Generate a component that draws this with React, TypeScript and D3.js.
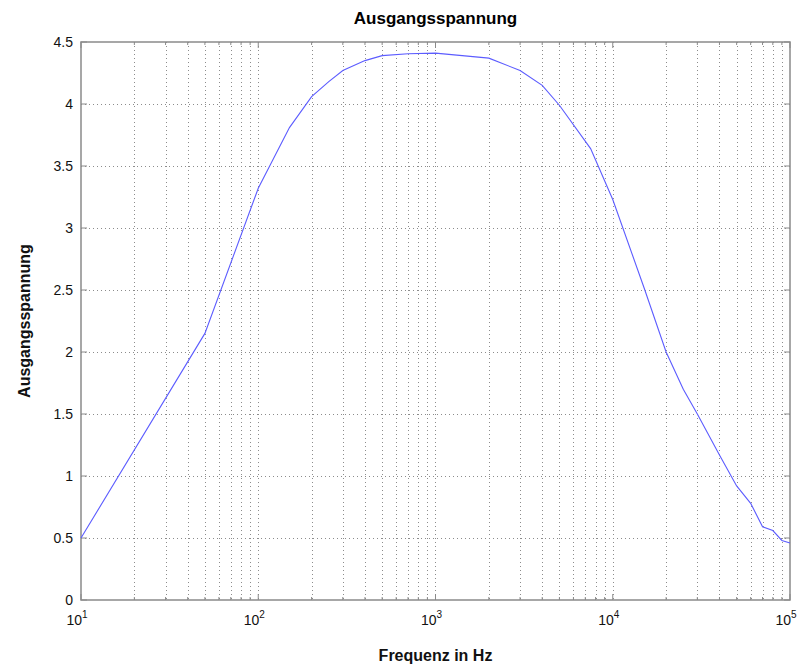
import React from "react";
import * as d3 from "d3";

// frequency in Hz and output voltage
const frequencies = [
  10, 50, 100, 150, 200, 250, 300, 400, 500, 700, 1000, 2000, 3000, 4000,
  5000, 7500, 10000, 15000, 20000, 25000, 30000, 40000, 50000, 60000, 70000,
  80000, 90000, 100000,
];
const voltages = [
  0.5, 2.15, 3.32, 3.81, 4.06, 4.18, 4.27, 4.35, 4.39, 4.405, 4.41, 4.37,
  4.27, 4.15, 3.99, 3.64, 3.23, 2.52, 2.0, 1.7, 1.5, 1.17, 0.92, 0.78, 0.59,
  0.56, 0.48, 0.46,
];
const yTicks = [0, 0.5, 1, 1.5, 2, 2.5, 3, 3.5, 4, 4.5];
const decades = [10, 100, 1000, 10000, 100000];

const title = "Ausgangsspannung";
const xLabel = "Frequenz in Hz";
const yLabel = "Ausgangsspannung";

const App = () => {
  const width = 804;
  const height = 668;
  const margins = { top: 42, right: 14, bottom: 68, left: 81 };
  const font = "'Liberation Sans', Arial, Helvetica, sans-serif";

  const xScale = d3
    .scaleLog()
    .domain([10, 100000])
    .range([margins.left, width - margins.right]);
  const yScale = d3
    .scaleLinear()
    .domain([0, 4.5])
    .range([height - margins.bottom, margins.top]);

  const data = frequencies.map((f, i) => ({ f, v: voltages[i] }));
  const line = d3
    .line<{ f: number; v: number }>()
    .x((d) => xScale(d.f))
    .y((d) => yScale(d.v));

  const minorTicks: number[] = [];
  decades.slice(0, -1).forEach((dec) => {
    for (let k = 2; k <= 9; k++) minorTicks.push(dec * k);
  });

  const x0 = margins.left;
  const x1 = width - margins.right;
  const y0 = margins.top;
  const y1 = height - margins.bottom;
  const axisColor = "#8a8a8a";

  return (
    <svg
      width={width}
      height={height}
      style={{ position: "absolute", left: 0, top: 0, background: "#fff" }}
      fontFamily={font}
    >
      {/* grid */}
      <g stroke="#8c8c8c" strokeWidth={1} strokeDasharray="1,3" fill="none">
        {[...minorTicks, ...decades.slice(1, -1)].map((t) => (
          <line
            key={"gx" + t}
            x1={Math.round(xScale(t)) + 0.5}
            x2={Math.round(xScale(t)) + 0.5}
            y1={y0}
            y2={y1}
          />
        ))}
        {yTicks.slice(1, -1).map((t) => (
          <line
            key={"gy" + t}
            x1={x0}
            x2={x1}
            y1={Math.round(yScale(t)) + 0.5}
            y2={Math.round(yScale(t)) + 0.5}
          />
        ))}
      </g>

      {/* ticks inside the box */}
      <g stroke={axisColor} strokeWidth={1}>
        {decades.map((t) => (
          <g key={"tx" + t}>
            <line x1={xScale(t)} x2={xScale(t)} y1={y1} y2={y1 - 6} />
            <line x1={xScale(t)} x2={xScale(t)} y1={y0} y2={y0 + 6} />
          </g>
        ))}
        {minorTicks.map((t) => (
          <g key={"mx" + t}>
            <line x1={xScale(t)} x2={xScale(t)} y1={y1} y2={y1 - 3} />
            <line x1={xScale(t)} x2={xScale(t)} y1={y0} y2={y0 + 3} />
          </g>
        ))}
        {yTicks.map((t) => (
          <g key={"ty" + t}>
            <line x1={x0} x2={x0 + 6} y1={yScale(t)} y2={yScale(t)} />
            <line x1={x1} x2={x1 - 6} y1={yScale(t)} y2={yScale(t)} />
          </g>
        ))}
      </g>

      <rect
        x={x0}
        y={y0}
        width={x1 - x0}
        height={y1 - y0}
        fill="none"
        stroke={axisColor}
        strokeWidth={1.5}
      />

      <path
        d={line(data) ?? ""}
        fill="none"
        stroke="#5c5cff"
        strokeWidth={1.1}
      />

      {/* tick labels */}
      <g fontSize={14} fill="#111">
        {yTicks.map((t) => (
          <text
            key={"ly" + t}
            x={x0 - 8}
            y={yScale(t)}
            textAnchor="end"
            dominantBaseline="central"
          >
            {t}
          </text>
        ))}
        {decades.map((t) => (
          <text key={"lx" + t} x={xScale(t) - 4} y={y1 + 25} textAnchor="middle">
            10
            <tspan fontSize={10} dy={-7}>
              {Math.round(Math.log10(t))}
            </tspan>
          </text>
        ))}
      </g>

      <text
        x={(x0 + x1) / 2}
        y={24}
        textAnchor="middle"
        fontSize={17}
        fontWeight="bold"
        fill="#000"
      >
        {title}
      </text>
      <text
        x={(x0 + x1) / 2}
        y={661}
        textAnchor="middle"
        fontSize={16}
        fontWeight="bold"
        fill="#111"
      >
        {xLabel}
      </text>
      <text
        transform={`translate(30, ${(y0 + y1) / 2}) rotate(-90)`}
        textAnchor="middle"
        fontSize={16}
        fontWeight="bold"
        fill="#111"
      >
        {yLabel}
      </text>
    </svg>
  );
};

export default App;
